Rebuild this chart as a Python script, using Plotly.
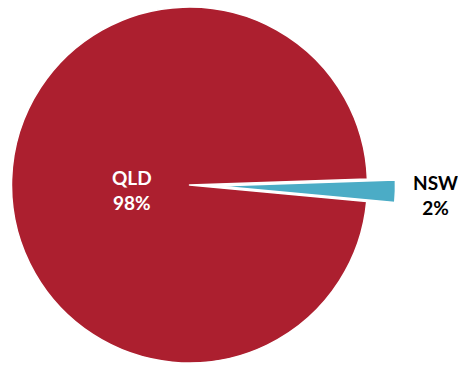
import plotly.graph_objects as go

labels = ["NSW", "QLD"]
values = [2, 98]
colors = ["#4BACC6", "#AC1F2F"]

W, H = 458, 367
total = sum(values)
pcts = [round(v / total * 100) for v in values]

fig = go.Figure()
# main pie (QLD), NSW slot left empty
fig.add_trace(go.Pie(
    labels=labels, values=values, sort=False, direction="clockwise", rotation=88.1,
    marker=dict(colors=["rgba(0,0,0,0)", colors[1]],
                line=dict(color=["rgba(0,0,0,0)", "white"], width=[0, 1.5])),
    textinfo="none", hoverinfo="skip", showlegend=False,
    domain=dict(x=[11.5 / W, 367.5 / W], y=[4 / H, 360 / H]),
))
# exploded NSW slice
fig.add_trace(go.Pie(
    labels=labels, values=values, sort=False, direction="clockwise", rotation=88.1,
    marker=dict(colors=[colors[0], "rgba(0,0,0,0)"],
                line=dict(color=["white", "rgba(0,0,0,0)"], width=[1.5, 0])),
    textinfo="none", hoverinfo="skip", showlegend=False,
    domain=dict(x=[39.5 / W, 395.5 / W], y=[3 / H, 359 / H]),
))

font_family = "Lato, 'Open Sans', sans-serif"
label_pos = {"QLD": (132, 190, "white"), "NSW": (435, 195, "black")}
for lab, p in zip(labels, pcts):
    x, y, c = label_pos[lab]
    fig.add_annotation(
        x=x / W, y=1 - y / H, xref="paper", yref="paper",
        text=f"<b>{lab}</b><br><b>{p}%</b>", showarrow=False,
        font=dict(family=font_family, size=19, color=c),
        align="center", xanchor="center", yanchor="middle",
    )

fig.update_layout(
    width=W, height=H, margin=dict(l=0, r=0, t=0, b=0),
    paper_bgcolor="white", plot_bgcolor="white",
)
fig.write_html(
    "out.html",
    config={"displayModeBar": False},
    post_script="document.body.style.margin='0';document.body.style.overflow='hidden';",
)
